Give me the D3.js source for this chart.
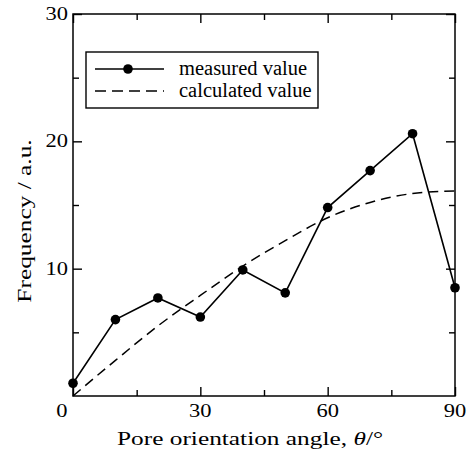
<!DOCTYPE html>
<html>
<head>
<meta charset="utf-8">
<script src="https://cdn.jsdelivr.net/npm/d3@7"></script>
<style>
  body { margin: 0; background: #fff; }
  svg text { font-family: "Liberation Serif", "Times New Roman", serif; fill: #000; }
</style>
</head>
<body>
<div id="chart"></div>
<script>
// measured frequency at each orientation angle
const angles = [0, 10, 20, 30, 40, 50, 60, 70, 80, 90];
const measured = [1.0, 6.0, 7.7, 6.2, 9.9, 8.1, 14.8, 17.7, 20.6, 8.5];

// calculated curve
const calcAngles = [0, 10, 20, 30, 40, 50, 60, 70, 80, 90];
const calculated = [0, 2.8, 5.5, 7.9, 10.2, 12.2, 14.0, 15.2, 15.9, 16.1];

const xMajor = [0, 30, 60, 90];
const xMinor = [15, 45, 75];
const yMajor = [10, 20, 30];
const yMinor = [5, 15, 25];

const legendLabels = ["measured value", "calculated value"];

const W = 469, H = 460;
const margin = { top: 14, right: 14, bottom: 64, left: 73 };
const width = W - margin.left - margin.right;
const height = H - margin.top - margin.bottom;

const svg = d3.select("#chart").append("svg")
    .attr("width", W)
    .attr("height", H);

const g = svg.append("g")
    .attr("transform", `translate(${margin.left},${margin.top})`);

const x = d3.scaleLinear().domain([0, 90]).range([0, width]);
const y = d3.scaleLinear().domain([0, 30]).range([height, 0]);

// ticks, all pointing inward
function ticks(axis, values, len) {
    return sel => {
        sel.call(axis.tickValues(values).tickSizeInner(-len).tickSizeOuter(0).tickFormat(""));
        sel.select(".domain").remove();
        sel.selectAll("line").attr("stroke", "#000").attr("stroke-width", 1.4);
    };
}

g.append("g").attr("transform", `translate(0,${height})`).call(ticks(d3.axisBottom(x), xMajor, 9));
g.append("g").attr("transform", `translate(0,${height})`).call(ticks(d3.axisBottom(x), xMinor, 6));
g.append("g").call(ticks(d3.axisTop(x), xMajor, 9));
g.append("g").call(ticks(d3.axisTop(x), xMinor, 6));
g.append("g").call(ticks(d3.axisLeft(y), yMajor, 9));
g.append("g").call(ticks(d3.axisLeft(y), yMinor, 6));
g.append("g").attr("transform", `translate(${width},0)`).call(ticks(d3.axisRight(y), yMajor, 9));
g.append("g").attr("transform", `translate(${width},0)`).call(ticks(d3.axisRight(y), yMinor, 6));

// frame
g.append("rect")
    .attr("width", width).attr("height", height)
    .attr("fill", "none").attr("stroke", "#000").attr("stroke-width", 1.5);

// tick labels (the source font is a wide Times)
g.selectAll(".xlab").data(xMajor).enter().append("text")
    .attr("transform", d => `translate(${d === 0 ? x(d) - 11 : x(d)},${height + 21}) scale(1.25,1)`)
    .attr("text-anchor", "middle")
    .style("font-size", "18px")
    .text(d => d);

g.selectAll(".ylab").data(yMajor).enter().append("text")
    .attr("transform", d => `translate(-5,${y(d) + 6}) scale(1.25,1)`)
    .attr("text-anchor", "end")
    .style("font-size", "18px")
    .text(d => d);

// axis titles
const xt = svg.append("text")
    .attr("transform", "translate(250,445) scale(1.3,1)")
    .attr("text-anchor", "middle")
    .style("font-size", "19.5px");
xt.append("tspan").text("Pore orientation angle, ");
xt.append("tspan").style("font-style", "italic").text("θ");
xt.append("tspan").text("/°");

svg.append("text")
    .attr("transform", "translate(31,221) rotate(-90) scale(1.3,1)")
    .attr("text-anchor", "middle")
    .style("font-size", "19.5px")
    .text("Frequency / a.u.");

// calculated curve
const calcData = calcAngles.map((a, i) => ({ a, v: calculated[i] }));
g.append("path")
    .datum(calcData)
    .attr("fill", "none")
    .attr("stroke", "#000")
    .attr("stroke-width", 1.5)
    .attr("stroke-dasharray", "10,6")
    .attr("d", d3.line().x(d => x(d.a)).y(d => y(d.v)).curve(d3.curveMonotoneX));

// measured values
const measData = angles.map((a, i) => ({ a, v: measured[i] }));
g.append("path")
    .datum(measData)
    .attr("fill", "none")
    .attr("stroke", "#000")
    .attr("stroke-width", 1.6)
    .attr("d", d3.line().x(d => x(d.a)).y(d => y(d.v)));

g.selectAll(".dot").data(measData).enter().append("circle")
    .attr("cx", d => x(d.a))
    .attr("cy", d => y(d.v))
    .attr("r", 4.8)
    .attr("fill", "#000");

// legend
const lg = svg.append("g");
lg.append("rect")
    .attr("x", 86).attr("y", 52)
    .attr("width", 232).attr("height", 56)
    .attr("fill", "#fff").attr("stroke", "#000").attr("stroke-width", 1.4);
lg.append("line")
    .attr("x1", 95).attr("x2", 164).attr("y1", 69).attr("y2", 69)
    .attr("stroke", "#000").attr("stroke-width", 1.6);
lg.append("circle").attr("cx", 128).attr("cy", 69).attr("r", 4.8).attr("fill", "#000");
lg.append("line")
    .attr("x1", 95).attr("x2", 164).attr("y1", 91).attr("y2", 91)
    .attr("stroke", "#000").attr("stroke-width", 1.5)
    .attr("stroke-dasharray", "11,6");
lg.selectAll(".lt").data(legendLabels).enter().append("text")
    .attr("x", 179)
    .attr("y", (d, i) => 75 + i * 22)
    .style("font-size", "20.5px")
    .text(d => d);
</script>
</body>
</html>
